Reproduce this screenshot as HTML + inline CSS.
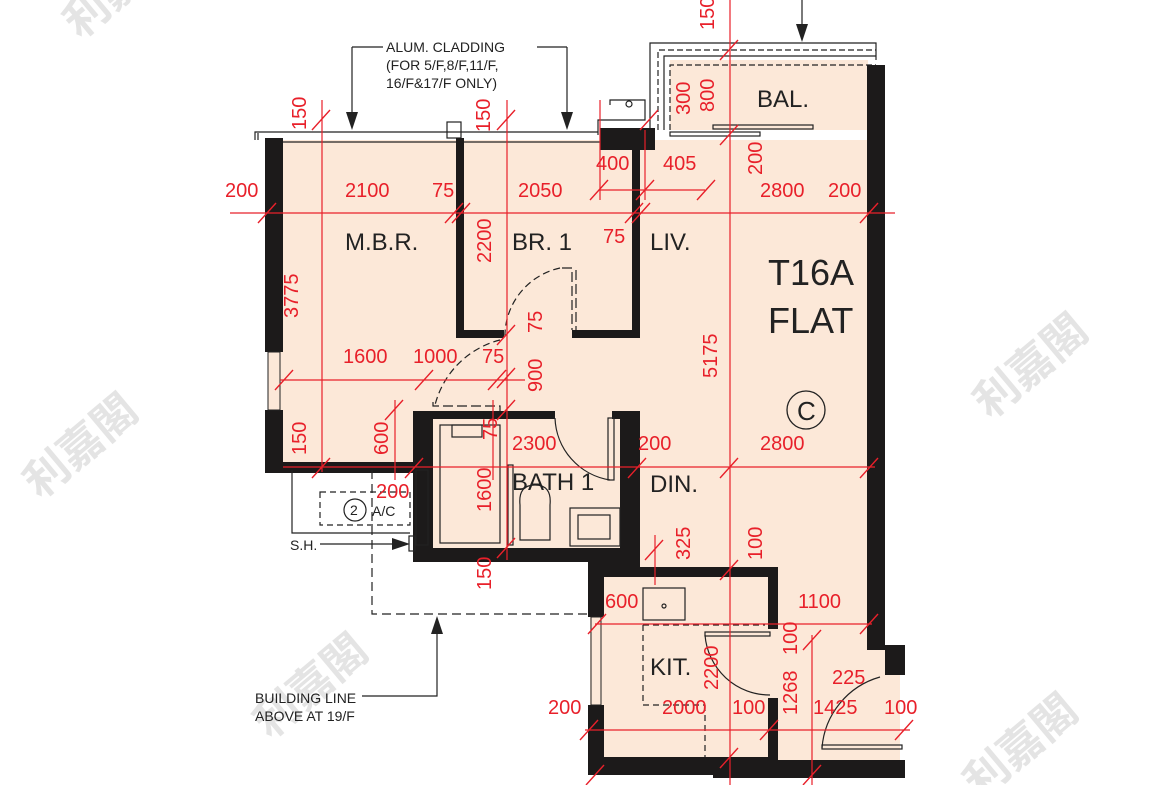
<!DOCTYPE html>
<html><head><meta charset="utf-8"><style>
html,body{margin:0;padding:0;background:#fff;}
svg{display:block;}
.r{fill:#e8202a;font-family:"Liberation Sans Narrow","Liberation Sans",sans-serif;font-size:20px;}
.k{fill:#222;font-family:"Liberation Sans Narrow","Liberation Sans",sans-serif;}
</style></head><body>
<svg width="1170" height="785" viewBox="0 0 1170 785" xmlns="http://www.w3.org/2000/svg">
<!-- watermarks -->
<g fill="#e4e4e4" font-family="'Noto Sans CJK TC',sans-serif" font-size="44" font-weight="bold">
<text x="80" y="40" transform="rotate(-40 80 40)">利嘉閣</text>
<text x="40" y="500" transform="rotate(-40 40 500)">利嘉閣</text>
<text x="990" y="420" transform="rotate(-40 990 420)">利嘉閣</text>
<text x="270" y="740" transform="rotate(-40 270 740)">利嘉閣</text>
<text x="980" y="800" transform="rotate(-40 980 800)">利嘉閣</text>
</g>
<!-- floor fill -->
<path d="M268,140 H870 V650 H900 V760 H590 V562 H415 V470 H268 Z" fill="#fce8d8"/>
<rect x="670" y="60" width="198" height="70" fill="#fce8d8"/>
<!-- balcony outlines -->
<g fill="none" stroke="#222" stroke-width="1.2">
<path d="M650,130 V43 H876 V60"/>
<path d="M658,130 V50 H876" stroke-dasharray="6,3"/>
<path d="M664,130 V56 H876"/>
<path d="M670,130 V65 H876" stroke-dasharray="6,3"/>
<path d="M598,135 V120 H645 V100 H610 V105"/>
<circle cx="629" cy="104" r="3"/>
<rect x="713" y="125" width="100" height="4"/>
<rect x="670" y="132" width="90" height="4"/>
<!-- top window line -->
<path d="M255,140 V132 H598 M258,140 V133"/>
<rect x="447" y="122" width="14" height="16"/>
<line x1="283" y1="142" x2="456" y2="142"/><line x1="463" y1="142" x2="600" y2="142"/>
</g>
<!-- walls -->
<g fill="#1c1a1a">
<rect x="265" y="138" width="18" height="214"/>
<rect x="265" y="410" width="18" height="62"/>
<rect x="265" y="462" width="150" height="11"/>
<rect x="456" y="138" width="8" height="200"/>
<rect x="456" y="330" width="48" height="8"/>
<rect x="572" y="330" width="68" height="8"/>
<rect x="632" y="140" width="8" height="198"/>
<rect x="600" y="128" width="55" height="22"/>
<rect x="413" y="411" width="142" height="8"/>
<rect x="612" y="411" width="28" height="8"/>
<rect x="413" y="411" width="20" height="151"/>
<rect x="413" y="548" width="227" height="14"/>
<rect x="620" y="411" width="20" height="166"/>
<rect x="588" y="562" width="52" height="15"/>
<rect x="588" y="567" width="190" height="10"/>
<rect x="588" y="567" width="16" height="50"/>
<rect x="588" y="705" width="16" height="70"/>
<rect x="768" y="567" width="10" height="62"/>
<rect x="768" y="698" width="10" height="62"/>
<rect x="588" y="757" width="190" height="18"/>
<rect x="713" y="760" width="192" height="18"/>
<rect x="867" y="65" width="18" height="585"/>
<rect x="885" y="645" width="20" height="30"/>
</g>
<!-- window at MBR left & kitchen left -->
<g fill="none" stroke="#222" stroke-width="1">
<rect x="268" y="352" width="12" height="58"/>
<rect x="591" y="617" width="10" height="88"/>
<rect x="416" y="470" width="12" height="75"/>
</g>
<!-- doors -->
<g fill="none" stroke="#222" stroke-width="1.2">
<path d="M560,268 A70,70 0 0 0 505,340" stroke-dasharray="7,4"/>
<path d="M562,268 H572 V330 M576,270 V330" stroke-dasharray="10,4"/>
<path d="M500,340 A90,90 0 0 0 435,405" stroke-dasharray="7,4"/>
<path d="M433,402 V406 H500 V411" stroke-dasharray="10,4"/>
<path d="M555,418 A65,65 0 0 0 610,480"/>
<rect x="608" y="418" width="6" height="62"/>
<path d="M705,635 A65,65 0 0 0 770,695"/>
<rect x="705" y="632" width="65" height="4"/>
<path d="M880,677 A80,80 0 0 0 822,748"/>
<rect x="822" y="745" width="80" height="4"/>
<path d="M643,625 V705 H705" stroke-dasharray="6,4"/>
<path d="M643,625 H765" stroke-dasharray="6,4"/>
<path d="M705,705 V757" stroke-dasharray="6,4"/>
<!-- bath fixtures -->
<rect x="440" y="425" width="60" height="118"/>
<rect x="452" y="425" width="30" height="12"/>
<rect x="508" y="465" width="5" height="80"/>
<path d="M520,540 V505 Q518,485 535,485 Q552,485 550,505 V540 Z"/>
<rect x="570" y="508" width="50" height="38"/>
<rect x="578" y="515" width="32" height="24"/>
<rect x="643" y="588" width="42" height="32"/>
<circle cx="664" cy="606" r="2"/>
<!-- A/C and building line -->
<path d="M292,470 V533 H410" />
<rect x="320" y="492" width="90" height="33" stroke-dasharray="6,4"/>
<circle cx="355" cy="510" r="11"/>
<path d="M372,470 V614 H588" stroke-dasharray="9,5"/>
<rect x="409" y="536" width="6" height="15"/>
<path d="M320,544 H395"/>
<path d="M437,620 V696 H362"/>
<path d="M352,47 H383 M537,47 H567 M352,47 V120 M567,47 V120 M802,0 V35"/>
</g>
<g fill="#222">
<path d="M410,544 L392,538 V550Z"/>
<path d="M437,616 L431,634 H443Z"/>
<path d="M352,130 L346,112 H358Z"/>
<path d="M567,130 L561,112 H573Z"/>
<path d="M802,42 L796,24 H808Z"/>
</g>
<!-- red dimension lines -->
<g stroke="#e8202a" stroke-width="1.2" fill="none">
<line x1="230" y1="213" x2="895" y2="213"/>
<line x1="280" y1="380" x2="525" y2="380"/>
<line x1="283" y1="467" x2="875" y2="467"/>
<line x1="595" y1="624" x2="872" y2="624"/>
<line x1="585" y1="730" x2="910" y2="730"/>
<line x1="600" y1="190" x2="705" y2="190"/>
<line x1="322" y1="100" x2="322" y2="472"/>
<line x1="507" y1="100" x2="507" y2="560"/>
<line x1="730" y1="0" x2="730" y2="785"/>
<line x1="812" y1="635" x2="812" y2="785"/>
<line x1="655" y1="535" x2="655" y2="585"/>
<line x1="395" y1="400" x2="395" y2="480"/>
<line x1="645" y1="130" x2="645" y2="200"/>
<line x1="493" y1="400" x2="493" y2="480"/>
<line x1="600" y1="100" x2="600" y2="200"/>
<g stroke-width="1.4">
<path d="M258,223 l18,-20 M445,223 l18,-20 M452,223 l18,-20 M625,223 l18,-20 M632,223 l18,-20 M860,223 l18,-20 M312,130 l18,-20 M497,130 l18,-20 M720,145 l18,-20 M720,60 l18,-20 M312,478 l18,-20 M497,345 l18,-20 M497,388 l18,-20 M497,420 l18,-20 M488,390 l18,-20 M275,390 l18,-20 M415,390 l18,-20 M628,478 l18,-20 M860,478 l18,-20 M720,478 l18,-20 M720,580 l18,-20 M645,560 l18,-20 M588,634 l18,-20 M860,634 l18,-20 M580,740 l18,-20 M760,740 l18,-20 M895,740 l18,-20 M803,650 l18,-20 M720,768 l18,-20 M803,785 l18,-20 M590,200 l18,-20 M636,200 l18,-20 M697,200 l18,-20 M385,420 l18,-20 M405,478 l18,-20 M497,558 l18,-20 M640,130 l18,-20 M586,785 l18,-20"/>
</g>
</g>
<!-- red dimension text -->
<g class="r">
<text x="225" y="197">200</text>
<text x="345" y="197">2100</text>
<text x="432" y="197">75</text>
<text x="518" y="197">2050</text>
<text x="596" y="170">400</text>
<text x="663" y="170">405</text>
<text x="603" y="243">75</text>
<text x="760" y="197">2800</text>
<text x="828" y="197">200</text>
<text x="343" y="363">1600</text>
<text x="413" y="363">1000</text>
<text x="482" y="363">75</text>
<text x="512" y="450">2300</text>
<text x="638" y="450">200</text>
<text x="760" y="450">2800</text>
<text x="376" y="498">200</text>
<text x="605" y="608">600</text>
<text x="798" y="608">1100</text>
<text x="832" y="684">225</text>
<text x="548" y="714">200</text>
<text x="662" y="714">2000</text>
<text x="732" y="714">100</text>
<text x="813" y="714">1425</text>
<text x="884" y="714">100</text>
</g>
<g class="r">
<text transform="translate(306,130) rotate(-90)">150</text>
<text transform="translate(298,318) rotate(-90)">3775</text>
<text transform="translate(306,455) rotate(-90)">150</text>
<text transform="translate(388,455) rotate(-90)">600</text>
<text transform="translate(491,263) rotate(-90)">2200</text>
<text transform="translate(542,333) rotate(-90)">75</text>
<text transform="translate(542,392) rotate(-90)">900</text>
<text transform="translate(497,440) rotate(-90)">75</text>
<text transform="translate(491,512) rotate(-90)">1600</text>
<text transform="translate(491,590) rotate(-90)">150</text>
<text transform="translate(490,132) rotate(-90)">150</text>
<text transform="translate(714,30) rotate(-90)">150</text>
<text transform="translate(714,112) rotate(-90)">800</text>
<text transform="translate(690,115) rotate(-90)">300</text>
<text transform="translate(762,175) rotate(-90)">200</text>
<text transform="translate(717,378) rotate(-90)">5175</text>
<text transform="translate(690,560) rotate(-90)">325</text>
<text transform="translate(762,560) rotate(-90)">100</text>
<text transform="translate(718,690) rotate(-90)">2200</text>
<text transform="translate(797,655) rotate(-90)">100</text>
<text transform="translate(797,715) rotate(-90)">1268</text>
</g>
<!-- room labels -->
<g class="k" font-size="24">
<text x="345" y="250">M.B.R.</text>
<text x="512" y="250">BR. 1</text>
<text x="650" y="250">LIV.</text>
<text x="757" y="107">BAL.</text>
<text x="512" y="490">BATH 1</text>
<text x="650" y="492">DIN.</text>
<text x="650" y="675">KIT.</text>
<text x="768" y="285" font-size="36">T16A</text>
<text x="768" y="333" font-size="36">FLAT</text>
<text x="797" y="420" font-size="26">C</text>
</g>
<circle cx="806" cy="410" r="19" fill="none" stroke="#222" stroke-width="1.3"/>
<g class="k" font-size="14">
<text x="386" y="52">ALUM. CLADDING</text>
<text x="386" y="70">(FOR 5/F,8/F,11/F,</text>
<text x="386" y="88">16/F&amp;17/F ONLY)</text>
<text x="290" y="550">S.H.</text>
<text x="255" y="703">BUILDING LINE</text>
<text x="255" y="721">ABOVE AT 19/F</text>
<text x="372" y="516">A/C</text>
<text x="350" y="515">2</text>
</g>
</svg>
</body></html>
